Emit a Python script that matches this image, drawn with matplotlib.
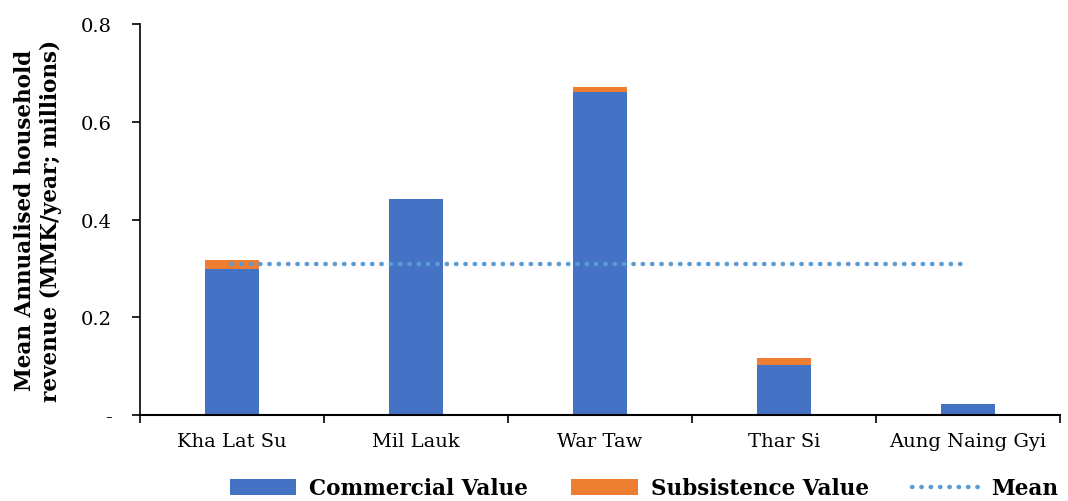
import numpy as np
import matplotlib.pyplot as plt
from matplotlib.ticker import FixedLocator, FuncFormatter, NullFormatter

plt.rcParams['font.family'] = ['DejaVu Serif']

# Village data (MMK/year, millions)
villages = ['Kha Lat Su', 'Mil Lauk', 'War Taw', 'Thar Si', 'Aung Naing Gyi']
commercial = [0.300, 0.442, 0.661, 0.103, 0.022]
subsistence = [0.017, 0.000, 0.010, 0.014, 0.000]
mean_value = 0.309

blue = '#4472C4'
orange = '#ED7D31'
light_blue = '#5B9BD5'

fig = plt.figure(figsize=(10.68, 5.02), dpi=100)
ax = fig.add_axes([0.131, 0.171, 0.8615, 0.779])

x = np.arange(len(villages))
width = 0.29
b1 = ax.bar(x, commercial, width, color=blue, label='Commercial Value')
b2 = ax.bar(x, subsistence, width, bottom=commercial, color=orange, label='Subsistence Value')
ln, = ax.plot(x, [mean_value] * len(x), linestyle=(0, (0.1, 2.0)), dash_capstyle='round',
              color=light_blue, linewidth=3.2, label='Mean')

ax.set_xlim(-0.5, len(villages) - 0.5)
ax.set_ylim(0, 0.8)
ax.set_yticks([0, 0.2, 0.4, 0.6, 0.8])
ax.yaxis.set_major_formatter(FuncFormatter(lambda v, p: '-' if v == 0 else f'{v:.1f}'))

# category labels centred, tick marks on the category boundaries
ax.xaxis.set_major_locator(FixedLocator(np.arange(-0.5, len(villages), 1.0)))
ax.xaxis.set_major_formatter(NullFormatter())
ax.xaxis.set_minor_locator(FixedLocator(x))
ax.set_xticklabels(villages, minor=True)
ax.tick_params(axis='x', which='minor', length=0, pad=12, labelsize=14)
ax.tick_params(axis='x', which='major', length=6, width=1.2)
ax.tick_params(axis='y', length=6, width=1.2, labelsize=14, pad=14)

for side in ['top', 'right']:
    ax.spines[side].set_visible(False)
ax.spines['left'].set_linewidth(1.2)
ax.spines['bottom'].set_linewidth(1.5)

ax.set_ylabel('Mean Annualised household\nrevenue (MMK/year; millions)',
              fontsize=15.5, fontweight='bold', labelpad=14)

fig.legend(handles=[b1, b2, ln], loc='center', bbox_to_anchor=(0.603, 0.025), ncol=3,
           frameon=False, prop={'size': 15.5, 'weight': 'bold'}, handlelength=3.1,
           handleheight=0.8, columnspacing=2.0, handletextpad=0.6)

fig.savefig('out.png', dpi=100)
